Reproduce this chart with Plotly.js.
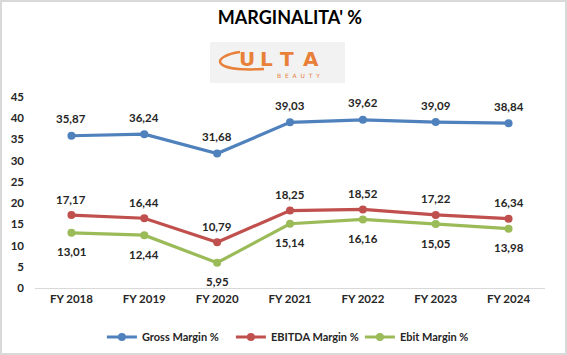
<!DOCTYPE html>
<html>
<head>
<meta charset="utf-8">
<script src="https://cdn.plot.ly/plotly-3.0.1.min.js"></script>
<style>html,body{margin:0;padding:0;background:#fff;}#chart{width:567px;height:355px;}</style>
</head>
<body>
<div id="chart"></div>
<script>
const categories = ["FY 2018", "FY 2019", "FY 2020", "FY 2021", "FY 2022", "FY 2023", "FY 2024"];
const grossMargin = [35.87, 36.24, 31.68, 39.03, 39.62, 39.09, 38.84];
const ebitdaMargin = [17.17, 16.44, 10.79, 18.25, 18.52, 17.22, 16.34];
const ebitMargin = [13.01, 12.44, 5.95, 15.14, 16.16, 15.05, 13.98];
const seriesNames = ["Gross Margin %", "EBITDA Margin %", "Ebit Margin %"];
const yTicks = [0, 5, 10, 15, 20, 25, 30, 35, 40, 45];

const colors = ["#4F81BD", "#C0504D", "#9BBB59"];
const W = 567, H = 355;
const M = {l: 35, r: 22, t: 97, b: 67, autoexpand: false};
const pw = W - M.l - M.r, ph = H - M.t - M.b;
const px = v => (v - M.l) / pw;
const py = v => (H - M.b - v) / ph;
const FONT = "Lato, 'Liberation Sans', sans-serif";
const FS = 11.5;
const fmt = v => v.toFixed(2).replace('.', ',');

const allSeries = [grossMargin, ebitdaMargin, ebitMargin];
const traces = allSeries.map((s, i) => ({
  x: categories, y: s, name: seriesNames[i], type: 'scatter', mode: 'lines+markers',
  line: {color: colors[i], width: 3.2}, marker: {color: colors[i], size: 8},
  hoverinfo: 'skip'
}));

const shifts = [17, 16, -19];
const annotations = [];
allSeries.forEach((s, i) => {
  s.forEach((v, j) => {
    annotations.push({x: categories[j], y: v, xref: 'x', yref: 'y', text: fmt(v), showarrow: false,
      yshift: shifts[i], font: {family: FONT, size: FS, color: '#262626', weight: 'bold'}});
  });
});
// logo text
const logoLetters = ["U", "L", "T", "A"];
const logoX = [247, 266, 287, 311];
logoLetters.forEach((ch, k) => {
  annotations.push({x: px(logoX[k]), y: py(59), xref: 'paper', yref: 'paper', xanchor: 'center', yanchor: 'middle',
    text: ch, showarrow: false,
    font: {family: "'DejaVu Sans', sans-serif", size: 20, color: '#E8803A', weight: 'bold'}});
});
annotations.push({x: px(298), y: py(76), xref: 'paper', yref: 'paper', xanchor: 'center', yanchor: 'middle',
  text: "B  E  A  U  T  Y", showarrow: false,
  font: {family: "'DejaVu Sans', sans-serif", size: 6, color: '#E8803A'}});

const shapes = [
  {type: 'rect', xref: 'paper', yref: 'paper', x0: px(1), x1: px(566), y0: py(354), y1: py(1),
    line: {color: '#D9D9D9', width: 2}, fillcolor: 'rgba(0,0,0,0)'},
  {type: 'rect', xref: 'paper', yref: 'paper', x0: px(210), x1: px(345), y0: py(83), y1: py(42),
    line: {width: 0}, fillcolor: '#F2F2F2', layer: 'below'},
  {type: 'path', xref: 'paper', yref: 'paper',
    path: `M ${px(240)},${py(52)} C ${px(212)},${py(56)} ${px(208)},${py(72)} ${px(264)},${py(69)}`,
    line: {color: '#E8803A', width: 2.5}}
];

const layout = {
  width: W, height: H, margin: M,
  paper_bgcolor: '#fff', plot_bgcolor: '#fff',
  title: {text: "MARGINALITA' %", x: 0.5, xref: 'paper', y: 1 - 18 / H, yanchor: 'middle',
    font: {family: FONT, size: 18, color: '#000', weight: 'bold'}},
  xaxis: {type: 'category', range: [-0.5, 6.5], showgrid: false, zeroline: false,
    showline: true, linecolor: '#D9D9D9', linewidth: 1, ticks: '',
    tickfont: {family: FONT, size: FS, color: '#262626', weight: 'bold'}, fixedrange: true},
  yaxis: {range: [0, 45], tickvals: yTicks, showgrid: false, zeroline: false, showline: false,
    ticks: '', ticklabelstandoff: 10,
    tickfont: {family: FONT, size: FS, color: '#262626', weight: 'bold'}, fixedrange: true},
  legend: {orientation: 'h', x: px(107) - 0.01, xanchor: 'left', y: py(337), yanchor: 'middle',
    font: {family: FONT, size: 11, color: '#262626', weight: 'bold'}, itemwidth: 30,
    entrywidth: 84, entrywidthmode: 'pixels'},
  annotations: annotations, shapes: shapes, showlegend: true
};
Plotly.newPlot('chart', traces, layout, {displayModeBar: false, staticPlot: true});
</script>
</body>
</html>
